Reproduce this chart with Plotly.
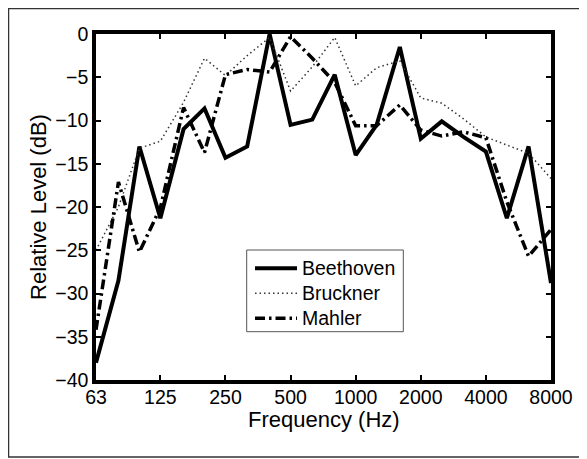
import plotly.graph_objects as go

freqs = [63, 80, 100, 125, 160, 200, 250, 315, 400, 500, 630, 800,
         1000, 1250, 1600, 2000, 2500, 3150, 4000, 5000, 6300, 8000]
beethoven = [-38, -28.5, -13, -21.3, -11, -8.6, -14.3, -13, 0, -10.5, -9.9, -4.7,
             -14, -10.5, -1.5, -12.1, -10.1, -11.9, -13.6, -21.3, -13, -28.8]
bruckner = [-25, -20, -13.2, -12.4, -7.9, -2.8, -4.8, -2.5, -0.4, -6.6, -3.8, -0.4,
            -6, -3.9, -3.1, -7.4, -8, -9.8, -11.9, -12.8, -13.8, -16.7]
mahler = [-34.2, -17.1, -25.2, -20.1, -8.5, -13.7, -4.7, -4.1, -4.4, -0.3, -2.8, -5.6,
          -10.6, -10.6, -8.2, -11.1, -11.8, -11.3, -12, -19.4, -25.7, -22.6]

series_names = ["Beethoven", "Bruckner", "Mahler"]

xtick_vals = [63, 125, 250, 500, 1000, 2000, 4000, 8000]
xtick_text = ["63", "125", "250", "500", "1000", "2000", "4000", "8000"]
ytick_vals = [0, -5, -10, -15, -20, -25, -30, -35, -40]

FONT = "Liberation Sans, Arial, sans-serif"
styles = [
    dict(color="black", width=4),
    dict(color="#333333", width=1.5, dash="1.5px,3px"),
    dict(color="black", width=3.5, dash="10px,4px,2.5px,4px"),
]

fig = go.Figure()
for name, vals, st in zip(series_names, [beethoven, bruckner, mahler], styles):
    fig.add_trace(go.Scatter(x=freqs, y=vals, mode="lines", name=name,
                             line=st, showlegend=False))

fig.update_layout(
    width=579, height=451,
    margin=dict(l=88, r=36, t=26, b=79),
    paper_bgcolor="white", plot_bgcolor="white",
    font=dict(family=FONT, size=19.5, color="black"),
    showlegend=False,
    xaxis=dict(type="log", range=[1.79934, 3.90309],
               tickvals=xtick_vals, ticktext=xtick_text,
               ticks="inside", ticklen=5, tickwidth=2, tickcolor="black",
               ticklabelstandoff=-3,
               showline=True, linewidth=3.5, linecolor="black", mirror="ticks",
               showgrid=False, zeroline=False),
    yaxis=dict(range=[-40, 0], tickvals=ytick_vals,
               ticks="inside", ticklen=5, tickwidth=2, tickcolor="black",
               showline=True, linewidth=3.5, linecolor="black", mirror="ticks",
               showgrid=False, zeroline=False,
               title=dict(text="Relative Level (dB)", font=dict(size=22), standoff=4)),
)

# x-axis title
fig.add_annotation(text="Frequency (Hz)", xref="paper", yref="paper",
                   x=0.5, y=-0.1156, xanchor="center", yanchor="middle",
                   showarrow=False, font=dict(size=22, family=FONT))

# outer frame
fig.add_shape(type="rect", xref="paper", yref="paper",
              x0=-0.1923, x1=1.068, y0=-0.2225, y1=1.0737,
              line=dict(color="#333333", width=1.5), fillcolor="rgba(0,0,0,0)",
              layer="below")

# legend box
fig.add_shape(type="rect", xref="paper", yref="paper",
              x0=0.3312, x1=0.6754, y0=0.1396, y1=0.3757,
              line=dict(color="#555555", width=1), fillcolor="white", layer="above")
row_y = [0.3228, 0.2506, 0.1783]
for name, st, yy in zip(series_names, styles, row_y):
    fig.add_shape(type="line", xref="paper", yref="paper",
                  x0=0.3495, x1=0.4418, y0=yy, y1=yy, line=st, layer="above")
    fig.add_annotation(text=name, xref="paper", yref="paper",
                       x=0.4484, y=yy, xanchor="left", yanchor="middle",
                       showarrow=False, font=dict(size=19.5, family=FONT))

fig.write_html("out.html")
